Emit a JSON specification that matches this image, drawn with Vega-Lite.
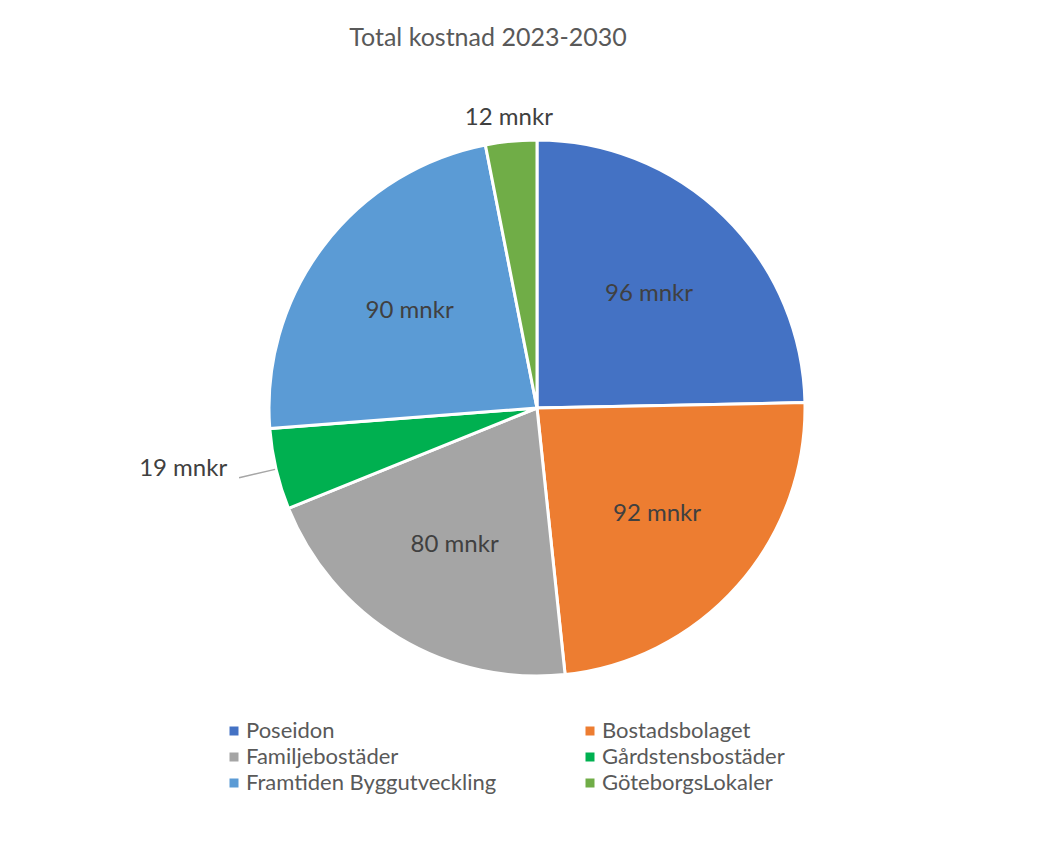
{
  "$schema": "https://vega.github.io/schema/vega-lite/v6.json",
  "width": 1060,
  "height": 796,
  "autosize": {"type": "none"},
  "padding": {"left": 7, "top": 10, "right": 0, "bottom": 0},
  "background": "white",
  "config": {
    "view": {"stroke": null},
    "font": "Lato"
  },
  "title": {
    "text": "Total kostnad 2023-2030",
    "anchor": "middle",
    "orient": "top",
    "offset": 0,
    "dx": -49,
    "dy": 41,
    "font": "Lato",
    "fontSize": 25,
    "fontWeight": "normal",
    "color": "#595959"
  },
  "data": {
    "values": [
      {"company": "Poseidon", "value": 96, "ord": 1, "label": "96 mnkr"},
      {"company": "Bostadsbolaget", "value": 92, "ord": 2, "label": "92 mnkr"},
      {"company": "Familjebostäder", "value": 80, "ord": 3, "label": "80 mnkr"},
      {"company": "Gårdstensbostäder", "value": 19, "ord": 4, "label": "19 mnkr"},
      {"company": "Framtiden Byggutveckling", "value": 90, "ord": 5, "label": "90 mnkr"},
      {"company": "GöteborgsLokaler", "value": 12, "ord": 6, "label": "12 mnkr"}
    ]
  },
  "layer": [
    {
      "mark": {"type": "arc", "radius": 268, "stroke": "white", "strokeWidth": 3},
      "encoding": {
        "theta": {"field": "value", "type": "quantitative", "stack": true},
        "order": {"field": "ord", "type": "quantitative"},
        "color": {
          "field": "company",
          "type": "nominal",
          "scale": {
            "domain": ["Poseidon", "Familjebostäder", "Framtiden Byggutveckling", "Bostadsbolaget", "Gårdstensbostäder", "GöteborgsLokaler"],
            "range": ["#4472C4", "#A5A5A5", "#5B9BD5", "#ED7D31", "#00B050", "#70AD47"]
          },
          "legend": {
            "title": null,
            "orient": "none",
            "legendX": 216,
            "legendY": 710,
            "columns": 2,
            "columnPadding": 82,
            "rowPadding": 4,
            "symbolType": "square",
            "symbolSize": 81,
            "symbolStrokeWidth": 0,
            "labelOffset": 1,
            "labelFont": "Lato",
            "labelFontSize": 22,
            "labelColor": "#595959",
            "labelLimit": 400
          }
        }
      }
    },
    {
      "mark": {"type": "arc", "radius": 269, "radius2": 306, "padAngle": 1.5, "fill": null, "fillOpacity": 0, "stroke": "#a6a6a6", "strokeWidth": 1.5},
      "encoding": {
        "theta": {"field": "value", "type": "quantitative", "stack": true},
        "order": {"field": "ord", "type": "quantitative"},
        "strokeOpacity": {"condition": {"test": "datum.company === 'Gårdstensbostäder'", "value": 1}, "value": 0}
      }
    },
    {
      "mark": {"type": "text", "radius": 160, "font": "Lato", "fontSize": 24, "color": "#404040", "align": "center", "baseline": "middle"},
      "encoding": {
        "theta": {"field": "value", "type": "quantitative", "stack": true},
        "order": {"field": "ord", "type": "quantitative"},
        "text": {"condition": {"test": "datum.value >= 50", "field": "label"}, "value": ""}
      }
    },
    {
      "mark": {"type": "text", "radius": 291, "font": "Lato", "fontSize": 24, "color": "#404040", "align": "center", "baseline": "middle"},
      "encoding": {
        "theta": {"field": "value", "type": "quantitative", "stack": true},
        "order": {"field": "ord", "type": "quantitative"},
        "text": {"condition": {"test": "datum.company === 'GöteborgsLokaler'", "field": "label"}, "value": ""}
      }
    },
    {
      "mark": {"type": "text", "radius": 310, "font": "Lato", "fontSize": 24, "color": "#404040", "align": "right", "baseline": "middle", "dx": -8, "dy": -10},
      "encoding": {
        "theta": {"field": "value", "type": "quantitative", "stack": true},
        "order": {"field": "ord", "type": "quantitative"},
        "text": {"condition": {"test": "datum.company === 'Gårdstensbostäder'", "field": "label"}, "value": ""}
      }
    }
  ]
}
